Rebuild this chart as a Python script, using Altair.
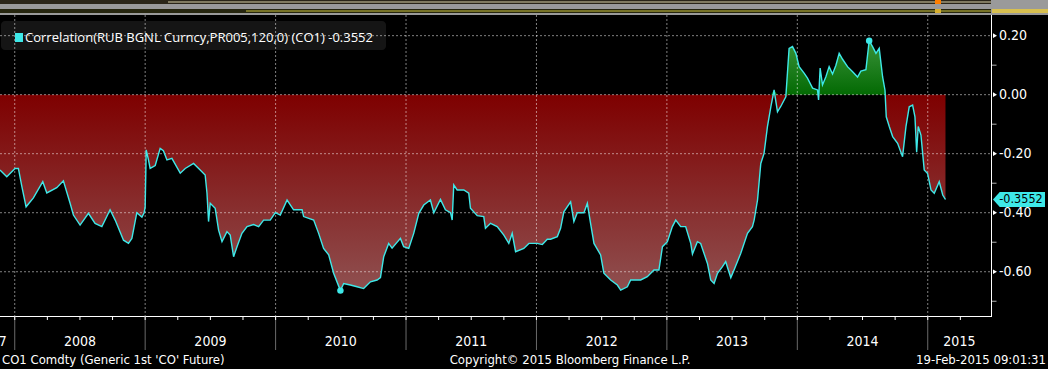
import altair as alt
import pandas as pd

# ---------------- data (decimal years, correlation) ----------------
years = [
    2007.887, 2007.939, 2008.002, 2008.028, 2008.054, 2008.087, 2008.143, 2008.215, 2008.246, 2008.322,
    2008.373, 2008.424, 2008.450, 2008.501, 2008.565, 2008.616, 2008.668, 2008.731, 2008.770, 2008.834,
    2008.872, 2008.898, 2008.936, 2008.975, 2008.992, 2009.000, 2009.008, 2009.025, 2009.038, 2009.077,
    2009.115, 2009.140, 2009.167, 2009.205, 2009.269, 2009.307, 2009.371, 2009.422, 2009.460, 2009.474,
    2009.486, 2009.499, 2009.537, 2009.563, 2009.589, 2009.627, 2009.652, 2009.678, 2009.704, 2009.742,
    2009.781, 2009.831, 2009.870, 2009.908, 2009.959, 2009.998, 2010.036, 2010.088, 2010.138, 2010.203,
    2010.215, 2010.292, 2010.330, 2010.368, 2010.407, 2010.445, 2010.497, 2010.522, 2010.573, 2010.625,
    2010.675, 2010.727, 2010.778, 2010.804, 2010.829, 2010.867, 2010.893, 2010.957, 2010.982, 2011.021,
    2011.059, 2011.098, 2011.136, 2011.187, 2011.213, 2011.264, 2011.302, 2011.341, 2011.354, 2011.366,
    2011.392, 2011.443, 2011.481, 2011.494, 2011.546, 2011.596, 2011.609, 2011.648, 2011.699, 2011.750,
    2011.788, 2011.814, 2011.840, 2011.903, 2011.942, 2012.006, 2012.045, 2012.083, 2012.108, 2012.160,
    2012.185, 2012.210, 2012.262, 2012.287, 2012.313, 2012.364, 2012.390, 2012.415, 2012.441, 2012.492,
    2012.517, 2012.569, 2012.620, 2012.646, 2012.697, 2012.722, 2012.799, 2012.850, 2012.901, 2012.939,
    2012.966, 2013.004, 2013.042, 2013.068, 2013.106, 2013.144, 2013.183, 2013.196, 2013.234, 2013.259,
    2013.285, 2013.311, 2013.336, 2013.362, 2013.388, 2013.426, 2013.451, 2013.490, 2013.515, 2013.566,
    2013.618, 2013.656, 2013.669, 2013.695, 2013.720, 2013.745, 2013.771, 2013.797, 2013.822, 2013.848,
    2013.873, 2013.912, 2013.937, 2013.963, 2013.989, 2014.014, 2014.052, 2014.078, 2014.117, 2014.155,
    2014.163, 2014.175, 2014.193, 2014.219, 2014.244, 2014.270, 2014.296, 2014.321, 2014.347, 2014.385,
    2014.424, 2014.462, 2014.487, 2014.526, 2014.551, 2014.577, 2014.603, 2014.628, 2014.654, 2014.672,
    2014.682, 2014.705, 2014.731, 2014.769, 2014.807, 2014.833, 2014.858, 2014.884, 2014.902, 2014.915,
    2014.927, 2014.948, 2014.973, 2014.999, 2015.025, 2015.050, 2015.088, 2015.115, 2015.136,
]
corr = [
    -0.255, -0.278, -0.250, -0.250, -0.310, -0.380, -0.350, -0.295, -0.333, -0.315,
    -0.292, -0.367, -0.408, -0.442, -0.402, -0.436, -0.447, -0.390, -0.425, -0.493,
    -0.504, -0.487, -0.400, -0.415, -0.400, -0.380, -0.187, -0.220, -0.250, -0.240,
    -0.182, -0.190, -0.221, -0.216, -0.266, -0.250, -0.233, -0.255, -0.272, -0.334,
    -0.430, -0.368, -0.385, -0.459, -0.498, -0.464, -0.476, -0.549, -0.515, -0.470,
    -0.447, -0.440, -0.447, -0.425, -0.425, -0.400, -0.408, -0.357, -0.390, -0.390,
    -0.413, -0.425, -0.470, -0.521, -0.543, -0.605, -0.664, -0.640, -0.645, -0.651,
    -0.657, -0.634, -0.628, -0.620, -0.549, -0.504, -0.520, -0.487, -0.515, -0.521,
    -0.470, -0.402, -0.374, -0.357, -0.400, -0.355, -0.390, -0.400, -0.425, -0.306,
    -0.323, -0.323, -0.334, -0.385, -0.410, -0.413, -0.453, -0.436, -0.447, -0.476,
    -0.504, -0.470, -0.532, -0.521, -0.504, -0.504, -0.508, -0.490, -0.490, -0.481,
    -0.453, -0.397, -0.363, -0.430, -0.400, -0.400, -0.368, -0.436, -0.504, -0.543,
    -0.605, -0.628, -0.645, -0.662, -0.651, -0.628, -0.628, -0.617, -0.594, -0.594,
    -0.515, -0.498, -0.447, -0.425, -0.447, -0.447, -0.504, -0.540, -0.498, -0.504,
    -0.538, -0.572, -0.628, -0.640, -0.605, -0.583, -0.566, -0.620, -0.594, -0.538,
    -0.470, -0.447, -0.425, -0.357, -0.233, -0.199, -0.108, -0.041, 0.016, -0.058,
    -0.040, -0.007, 0.157, 0.163, 0.140, 0.095, 0.073, 0.056, 0.022, 0.016,
    -0.018, 0.090, 0.033, 0.061, 0.095, 0.070, 0.100, 0.140, 0.120, 0.095,
    0.078, 0.060, 0.080, 0.085, 0.183, 0.163, 0.140, 0.157, 0.060, 0.016,
    -0.075, -0.108, -0.142, -0.165, -0.210, -0.108, -0.041, -0.035, -0.075, -0.195,
    -0.108, -0.137, -0.255, -0.267, -0.323, -0.334, -0.295, -0.340, -0.3552,
]
y_ticks = [-0.6, -0.4, -0.2, 0.0, 0.2]
y_minor = [-0.7, -0.5, -0.3, -0.1, 0.1]
year_starts = [2008, 2009, 2010, 2011, 2012, 2013, 2014, 2015]
series_label = "Correlation(RUB BGNL Curncy,PR005,120,0) (CO1)"
footer_left = "CO1 Comdty (Generic 1st 'CO' Future)"
footer_mid = "Copyright\u00a9 2015 Bloomberg Finance L.P."
footer_right = "19-Feb-2015 09:01:31"

# ---------------- layout / style ----------------
X0, X1 = 2007.887, 2015.485
Y0, Y1 = -0.75, 0.27
W, H = 991, 301
CYAN = "#3ee8e8"
FONT = "'Liberation Sans Narrow', 'DejaVu Sans Condensed', 'Arial Narrow', sans-serif"
LFONT = "'Open Sans', 'DejaVu Sans', sans-serif"

df = pd.DataFrame({"t": years, "v": corr})
df["neg"] = df["v"].clip(upper=0)
df["pos"] = df["v"].clip(lower=0)
df["zero"] = 0.0
last = corr[-1]

xs = alt.Scale(domain=[X0, X1], nice=False, zero=False)
ys = alt.Scale(domain=[Y0, Y1], nice=False, zero=False)
one = pd.DataFrame({"a": [0]})


def X(f="t"):
    return alt.X(f"{f}:Q", scale=xs, axis=None)


def Y(f="v"):
    return alt.Y(f"{f}:Q", scale=ys, axis=None)


def box(color, x, x2, y, y2, **kw):
    return alt.Chart(one).mark_rect(color=color, **kw).encode(
        x=alt.value(x), x2=alt.value(x2), y=alt.value(y), y2=alt.value(y2))


# top strip (edge of another panel)
strip = [
    box("#9a9a9a", 0, 1048, -15, 0),
    box("#2b2618", 0, W, -15, -11),
    box("#d8cfa8", 168, W, -13.5, -12.5),
    box("#26260f", 0, W, -6, -2),
    box("#c8c040", 246, W, -4.5, -3.5),
    box("#ff7f00", 935, 941, -15, -11),
    box("#d8b030", 935, 941, -6, -2),
    box("#d8c050", W + 1, 1048, -6, -2),
]

legend_box = box("#151515", 1, 386, 6, 35, cornerRadius=4)

red = alt.Chart(df).mark_area(
    color=alt.Gradient(gradient="linear",
                       stops=[alt.GradientStop(color="#7e0000", offset=0),
                              alt.GradientStop(color="#8f5050", offset=1)],
                       x1=0, x2=0, y1=0, y2=1)
).encode(x=X(), y=Y("neg"), y2="zero:Q")

green = alt.Chart(df).mark_area(
    color=alt.Gradient(gradient="linear",
                       stops=[alt.GradientStop(color="#3a923a", offset=0),
                              alt.GradientStop(color="#036a03", offset=1)],
                       x1=0, x2=0, y1=0, y2=1)
).encode(x=X(), y=Y("pos"), y2="zero:Q")

ydf = pd.DataFrame({"t": year_starts})
vgrid = alt.Chart(ydf).mark_rule(color="white", opacity=0.5, strokeDash=[2, 2]).encode(
    x=X(), y=alt.value(0), y2=alt.value(H))
tdf = pd.DataFrame({"v": y_ticks, "lab": [f"{v:.2f}" for v in y_ticks]})
hgrid = alt.Chart(tdf).mark_rule(color="white", opacity=0.5, strokeDash=[2, 2]).encode(
    y=Y(), x=alt.value(0), x2=alt.value(W))

line = alt.Chart(df).mark_line(color=CYAN, strokeWidth=1.4).encode(x=X(), y=Y())

ext = df.loc[[df["v"].idxmin(), df["v"].idxmax()]].reset_index(drop=True)
dots = alt.Chart(ext).mark_circle(size=42, color=CYAN, opacity=1).encode(x=X(), y=Y())

legend_sq = box(CYAN, 15, 23, 18, 27)
legend_txt = alt.Chart(one).mark_text(align="left", baseline="middle", color="white", font=LFONT, fontSize=13).encode(
    x=alt.value(25), y=alt.value(22.5), text=alt.value(f"{series_label} {last:.4f}"))

# bottom axis
xbase = box("white", 0, W + 1, H, H + 1)
seps = alt.Chart(ydf).mark_rule(color="#6a6a6a").encode(x=X(), y=alt.value(H), y2=alt.value(H + 34))
quarters = [y + q / 4 for y in range(2007, 2016) for q in range(4) if X0 < y + q / 4 < X1]
qdf = pd.DataFrame({"t": quarters})
qticks = alt.Chart(qdf).mark_rule(color="white").encode(x=X(), y=alt.value(H), y2=alt.value(H + 4))
lab = pd.DataFrame({"t": [(max(y, X0) + min(y + 1, X1)) / 2 for y in year_starts],
                    "lab": [str(y) for y in year_starts]})
ylabels = alt.Chart(lab).mark_text(color="white", font=FONT, fontSize=14, baseline="middle").encode(
    x=X(), y=alt.value(H + 26), text="lab:N")
prev_lab = alt.Chart(pd.DataFrame({"t": [year_starts[0]], "lab": [str(year_starts[0] - 1)]})).mark_text(
    color="white", font=FONT, fontSize=14, baseline="middle", align="right", dx=-8).encode(
    x=X(), y=alt.value(H + 26), text="lab:N")

# right axis
ybase = box("white", W, W + 1, 0, H + 1)
mdf = pd.DataFrame({"v": y_minor})
minor = alt.Chart(mdf).mark_tick(color="white", orient="horizontal", size=5, thickness=1).encode(
    x=alt.value(W + 3), y=Y())
arrows = alt.Chart(tdf).mark_point(shape="triangle-right", filled=True, size=22, color="white", opacity=1).encode(
    x=alt.value(W + 4), y=Y())
ylab = alt.Chart(tdf).mark_text(color="white", font=FONT, fontSize=14, align="left", baseline="middle").encode(
    x=alt.value(W + 8), y=Y(), text="lab:N")

ldf = pd.DataFrame({"v": [last], "lab": [f"{last:.4f}"]})
tag = alt.Chart(ldf).mark_point(
    shape="M -1 0 L -0.74 -0.29 L 1 -0.29 L 1 0.29 L -0.74 0.29 Z",
    size=2704, filled=True, color=CYAN, opacity=1
).encode(x=alt.value(1019), y=Y())
tag_txt = alt.Chart(ldf).mark_text(color="black", font=FONT, fontSize=12.5, baseline="middle").encode(
    x=alt.value(1021), y=Y(), text="lab:N")


# footer
def ftxt(s, x, align):
    return alt.Chart(one).mark_text(color="white", font=FONT, fontSize=13, align=align, baseline="middle").encode(
        x=alt.value(x), y=alt.value(H + 44), text=alt.value(s))


foot = [ftxt(footer_left, 2, "left"), ftxt(footer_mid, 570, "center"), ftxt(footer_right, 1046, "right")]

chart = alt.layer(
    *strip, legend_box, red, green, hgrid, vgrid, line, dots, legend_sq, legend_txt,
    xbase, seps, qticks, ylabels, prev_lab, ybase, minor, arrows, ylab, tag, tag_txt, *foot
).properties(
    width=W, height=H, autosize="none",
    padding={"left": 0, "top": 15, "right": 57, "bottom": 53},
    background="black",
).configure_view(strokeWidth=0)

chart.save("out.html", embed_options={"renderer": "svg", "actions": False})
